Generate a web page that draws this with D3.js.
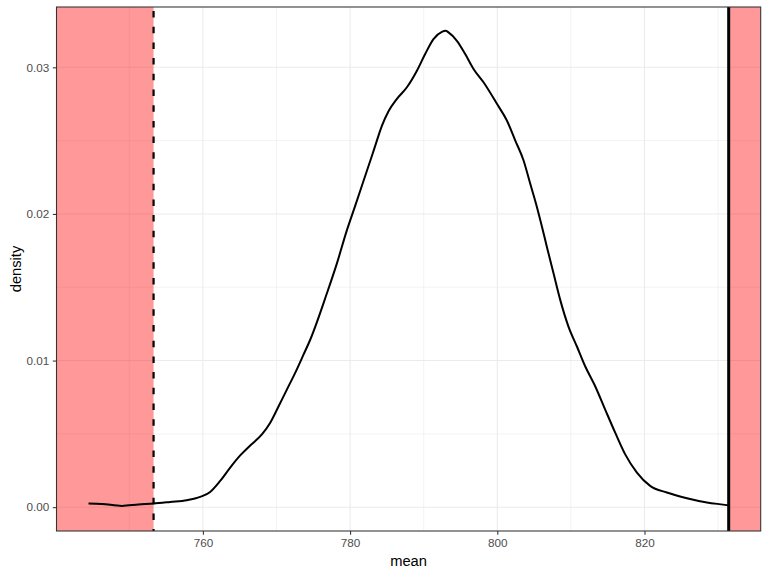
<!DOCTYPE html>
<html>
<head>
<meta charset="utf-8">
<script src="https://cdn.jsdelivr.net/npm/d3@7"></script>
<style>
  html, body { margin: 0; padding: 0; background: #fff; }
  svg { display: block; font-family: "Liberation Sans", Arial, sans-serif; }
</style>
</head>
<body>
<svg id="chart" width="768" height="576"></svg>
<script>
// ---- data ----
const densityX = [744.46, 746.28, 749.0, 751.25, 753.29, 755.56, 757.83, 759.63, 760.99, 762.35,
  763.71, 765.07, 766.43, 768.02, 769.15, 770.14, 771.41, 772.54, 773.67, 774.58,
  776.85, 778.21, 779.57, 780.69, 781.82, 782.96, 783.64, 784.32, 785.22,
  786.36, 787.72, 789.08, 790.20, 791.33, 792.47, 793.0, 793.37, 794.51, 795.64,
  796.77, 798.13, 799.95, 801.30, 802.43, 803.56, 804.47, 805.38, 806.06, 806.74,
  807.64, 808.55, 809.67, 810.82, 811.94, 813.30, 814.66, 816.02, 817.38, 818.97,
  820.77, 823.04, 825.76, 828.48, 831.20, 831.44];
const densityY = [0.000252, 0.000224, 0.000088, 0.000184, 0.000252, 0.000360, 0.000476, 0.000700, 0.00104, 0.00179,
  0.00270, 0.00353, 0.00421, 0.00496, 0.00576, 0.00673, 0.00802, 0.00916, 0.01040, 0.01142,
  0.01459, 0.01663, 0.01890, 0.02055, 0.02225, 0.02395, 0.02500, 0.02600, 0.02700,
  0.02785, 0.02864, 0.02977, 0.03091, 0.03193, 0.03242, 0.03249, 0.03238, 0.03181, 0.03091,
  0.02989, 0.02898, 0.02751, 0.02637, 0.02502, 0.02366, 0.02207, 0.02048, 0.01915, 0.01775,
  0.01595, 0.01414, 0.01232, 0.01096, 0.00961, 0.00825, 0.00666, 0.00508, 0.00360, 0.00236,
  0.00145, 0.00100, 0.00061, 0.00032, 0.00014, 0.00012];
const xTicks = [760, 780, 800, 820];
const xMinor = [750, 770, 790, 810, 830];
const yTicks = [0.00, 0.01, 0.02, 0.03];
const yMinor = [0.005, 0.015, 0.025];
const yTickLabels = ["0.00", "0.01", "0.02", "0.03"];
const criticalValue = 753.3;   // dashed line
const observedValue = 831.44;  // solid line
const xTitle = "mean";
const yTitle = "density";

// ---- layout ----
const panel = { left: 56.5, right: 760.7, top: 7, bottom: 531 };
const svg = d3.select("#chart");

const xExt = d3.extent(densityX);
const xPad = (xExt[1] - xExt[0]) * 0.05;
const x = d3.scaleLinear().domain([xExt[0] - xPad, xExt[1] + xPad]).range([panel.left, panel.right]);
const yMax = d3.max(densityY);
const yPad = yMax * 0.05;
const y = d3.scaleLinear().domain([-yPad, yMax + yPad]).range([panel.bottom, panel.top]);

const g = svg.append("g");

// grid
g.selectAll(".xminor").data(xMinor).enter().append("line")
  .attr("x1", d => x(d)).attr("x2", d => x(d))
  .attr("y1", panel.top).attr("y2", panel.bottom)
  .attr("stroke", "#EBEBEB").attr("stroke-width", 0.6);
g.selectAll(".yminor").data(yMinor).enter().append("line")
  .attr("y1", d => y(d)).attr("y2", d => y(d))
  .attr("x1", panel.left).attr("x2", panel.right)
  .attr("stroke", "#EBEBEB").attr("stroke-width", 0.6);
g.selectAll(".xmajor").data(xTicks).enter().append("line")
  .attr("x1", d => x(d)).attr("x2", d => x(d))
  .attr("y1", panel.top).attr("y2", panel.bottom)
  .attr("stroke", "#EBEBEB").attr("stroke-width", 1.07);
g.selectAll(".ymajor").data(yTicks).enter().append("line")
  .attr("y1", d => y(d)).attr("y2", d => y(d))
  .attr("x1", panel.left).attr("x2", panel.right)
  .attr("stroke", "#EBEBEB").attr("stroke-width", 1.07);

// rejection regions
g.append("rect")
  .attr("x", panel.left).attr("y", panel.top)
  .attr("width", x(criticalValue) - panel.left).attr("height", panel.bottom - panel.top)
  .attr("fill", "red").attr("fill-opacity", 0.4);
g.append("rect")
  .attr("x", x(observedValue)).attr("y", panel.top)
  .attr("width", panel.right - x(observedValue)).attr("height", panel.bottom - panel.top)
  .attr("fill", "red").attr("fill-opacity", 0.4);

// density curve
const line = d3.line()
  .x((d, i) => x(densityX[i]))
  .y(d => y(d))
  .curve(d3.curveMonotoneX);
g.append("path")
  .attr("d", line(densityY))
  .attr("fill", "none").attr("stroke", "#000").attr("stroke-width", 2)
  .attr("stroke-linejoin", "round");

// dashed critical line
g.append("line")
  .attr("x1", x(criticalValue)).attr("x2", x(criticalValue))
  .attr("y1", panel.top).attr("y2", panel.bottom)
  .attr("stroke", "#000").attr("stroke-width", 2.2)
  .attr("stroke-dasharray", "6.5,9.2").attr("stroke-dashoffset", 11.7);

// observed line
g.append("line")
  .attr("x1", x(observedValue)).attr("x2", x(observedValue))
  .attr("y1", panel.top).attr("y2", panel.bottom)
  .attr("stroke", "#000").attr("stroke-width", 3);

// panel border
g.append("rect")
  .attr("x", panel.left).attr("y", panel.top)
  .attr("width", panel.right - panel.left).attr("height", panel.bottom - panel.top)
  .attr("fill", "none").attr("stroke", "#333333").attr("stroke-width", 1.07);

// axes
const xAxis = d3.axisBottom(x).tickValues(xTicks).tickSize(3.7).tickPadding(3.5).tickFormat(d3.format("d"));
const xg = svg.append("g").attr("transform", `translate(0,${panel.bottom})`).call(xAxis);
xg.select(".domain").remove();
xg.selectAll(".tick line").attr("stroke", "#333333").attr("stroke-width", 1.07);
xg.selectAll(".tick text").attr("fill", "#4D4D4D").style("font-size", "11.7px")
  .style("font-family", "'Liberation Sans', Arial, sans-serif");

const yAxis = d3.axisLeft(y).tickValues(yTicks).tickSize(3.7).tickPadding(3.5)
  .tickFormat((d, i) => yTickLabels[i]);
const yg = svg.append("g").attr("transform", `translate(${panel.left},0)`).call(yAxis);
yg.select(".domain").remove();
yg.selectAll(".tick line").attr("stroke", "#333333").attr("stroke-width", 1.07);
yg.selectAll(".tick text").attr("fill", "#4D4D4D").style("font-size", "11.7px")
  .style("font-family", "'Liberation Sans', Arial, sans-serif");

// titles
svg.append("text")
  .attr("x", (panel.left + panel.right) / 2).attr("y", 566)
  .attr("text-anchor", "middle").attr("fill", "#000")
  .style("font-size", "14.7px").text(xTitle);
svg.append("text")
  .attr("transform", `translate(21,${(panel.top + panel.bottom) / 2}) rotate(-90)`)
  .attr("text-anchor", "middle").attr("fill", "#000")
  .style("font-size", "14.7px").text(yTitle);
</script>
</body>
</html>
